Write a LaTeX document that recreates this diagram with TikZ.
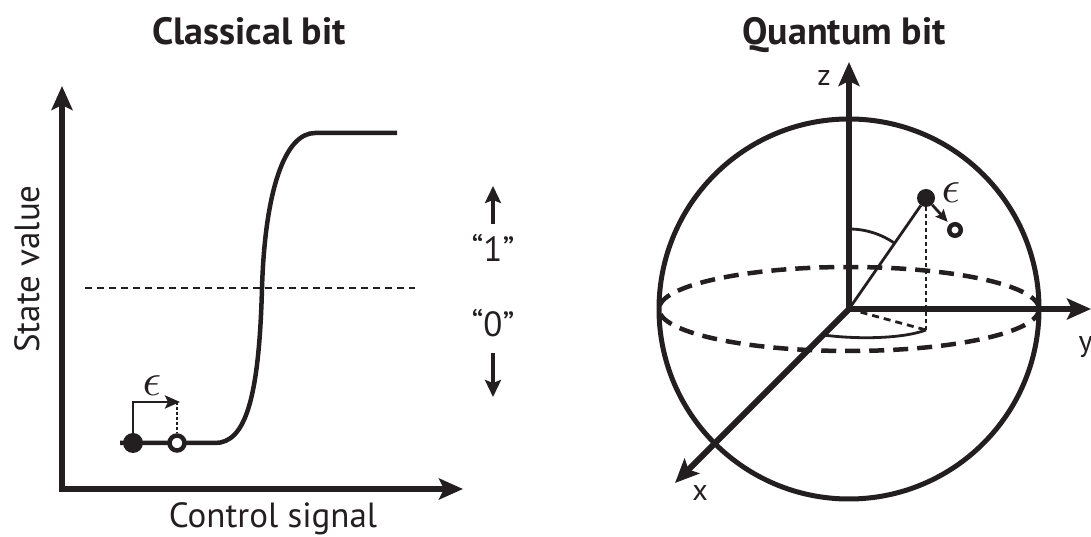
\documentclass[tikz,border=0pt]{standalone}
\usepackage{fontspec}
\setmainfont{PT Sans}
\usetikzlibrary{arrows.meta, positioning}
\definecolor{InkBlack}{HTML}{231F20}

\begin{document}
\begin{tikzpicture}[
    x=1pt, y=1pt,
    every node/.style={text=InkBlack},
    heading/.style={font=\fontsize{38}{42}\selectfont\bfseries, anchor=base},
    axistext/.style={font=\fontsize{35}{38}\selectfont},
    coordtext/.style={font=\fontsize{30}{32}\selectfont},
    epstext/.style={scale=4.6},
    bigtip/.style={-{Stealth[length=24pt, width=21pt, inset=5pt]}},
    axisline/.style={draw=InkBlack, line width=6pt},
    sigmoid/.style={draw=InkBlack, line width=4.5pt},
    midline/.style={draw=InkBlack, line width=2.5pt, dash pattern=on 7pt off 5pt},
    levelarr/.style={draw=InkBlack, line width=3.2pt,
      -{Stealth[length=17pt, width=16pt, inset=3pt]}},
    nudge/.style={draw=InkBlack, line width=2.8pt,
      -{Stealth[length=15pt, width=13pt, inset=3pt]}},
    smallnudge/.style={draw=InkBlack, line width=2.8pt,
      -{Stealth[length=12pt, width=11pt, inset=2pt]}},
    dotline/.style={draw=InkBlack, line width=2.8pt, dash pattern=on 3pt off 2pt},
    fulldot/.style={circle, fill=InkBlack, minimum size=20pt, inner sep=0pt},
    opendot/.style={circle, draw=InkBlack, fill=white, line width=4.5pt,
      minimum size=15pt, inner sep=0pt},
    blochsphere/.style={draw=InkBlack, line width=5pt},
    equator/.style={draw=InkBlack, line width=4.5pt, dash pattern=on 15pt off 9pt},
    thinline/.style={draw=InkBlack, line width=2.8pt},
    thindash/.style={draw=InkBlack, line width=2.8pt, dash pattern=on 7pt off 5pt},
  ]
  \useasboundingbox (0,0) rectangle (1091,537);

  % classical bit
  \node[heading] (ctitle) at (249,492) {Classical bit};
  \coordinate (corner) at (62,48);
  \coordinate (vtip) at (62,451);
  \coordinate (htip) at (463,48);
  \draw[axisline, {Stealth[length=24pt, width=21pt, inset=5pt]}-{Stealth[length=24pt, width=21pt, inset=5pt]}]
    (vtip) -- (corner) -- (htip);
  \node[axistext, rotate=90] (ylab) at (27,268) {State value};
  \node[axistext, anchor=base] (xlab) at (273,9) {Control signal};

  \draw[midline] (85,249) -- (415,249);
  \draw[sigmoid] (120,94) -- (215,94)
    .. controls (245,94) and (259,137) .. (262,249)
    .. controls (265,347) and (285,404) .. (315,404) -- (397,404);

  \node[fulldot] (s0) at (133,94) {};
  \node[opendot] (s1) at (177,94) {};
  \coordinate (kick) at (180,135);
  \draw[nudge] (s0.center) |- (kick);
  \draw[dotline] (177,135) -- (s1.north);
  \node[epstext] (eps1) at (152,151) {$\epsilon$};

  \node[axistext, anchor=base] (one) at (493,275) {“1”};
  \node[axistext, anchor=base] (zero) at (493,200) {“0”};
  \coordinate (uptip) at (493,351);
  \coordinate (downtip) at (493,140);
  \draw[levelarr, shorten <=7pt] (one.north) -- (uptip);
  \draw[levelarr, shorten <=12pt] (zero.south) -- (downtip);

  % quantum bit
  \node[heading] (qtitle) at (844,492) {Quantum bit};
  \coordinate (O) at (849,228);
  \draw[blochsphere] (O) circle[radius=190];
  \draw[equator] (O) ellipse[x radius=190, y radius=42];

  \coordinate (ztip) at (849,475);
  \coordinate (ytip) at (1091,228);
  \coordinate (xtip) at (675,54);
  \draw[axisline, bigtip] (O) -- (ztip);
  \draw[axisline, bigtip] (O) -- (ytip);
  \draw[axisline, bigtip] (O) -- (xtip);
  \node[coordtext] (zlab) at (824,459) {z};
  \node[coordtext, anchor=base west] (ylab2) at (1075,185) {y};
  \node[coordtext] (xlab2) at (700,44) {x};

  \node[fulldot, minimum size=18pt] (psi) at (926,339) {};
  \coordinate (foot) at (926,207);
  \coordinate (xmark) at (823,202);
  \draw[thinline] (O) -- (psi);
  \draw[dotline, line width=2.3pt, dash pattern=on 4pt off 3pt] (psi) -- (foot);
  \draw[thindash] (O) -- (foot);
  \draw[thinline] (O) ++(90:80) arc[start angle=90, end angle=55, radius=80];
  \draw[thinline] (xmark) .. controls (862,197) and (905,199) .. (foot);

  \node[opendot, minimum size=11.5pt] (psinew) at (955,307) {};
  \draw[smallnudge, shorten >=3pt] (psi) -- (psinew);
  \node[epstext] (eps2) at (951,344) {$\epsilon$};
\end{tikzpicture}
\end{document}
